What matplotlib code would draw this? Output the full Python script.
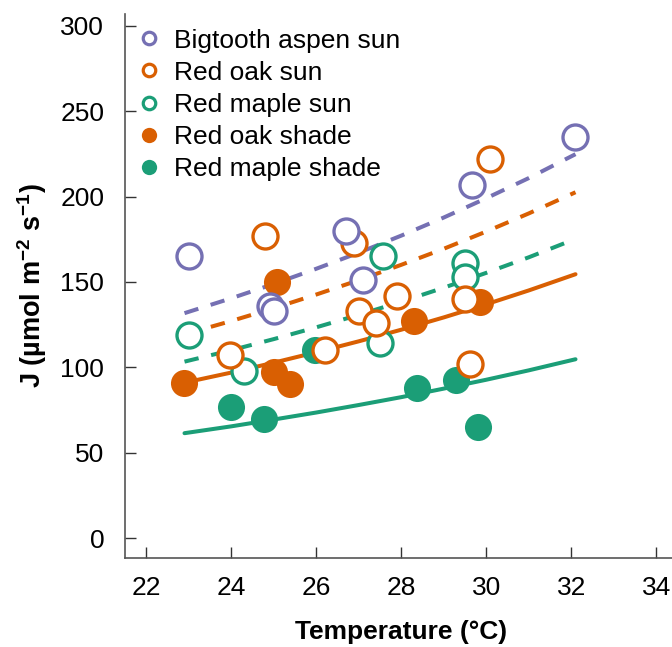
import numpy as np
import matplotlib
matplotlib.use("Agg")
import matplotlib.pyplot as plt
from matplotlib.lines import Line2D

plt.rcParams["font.family"] = ["Liberation Sans", "DejaVu Sans"]
plt.rcParams["mathtext.default"] = "regular"

PURPLE = "#7570b3"
ORANGE = "#d95f02"
GREEN = "#1b9e77"

# points (temperature, J)
aspen_sun_t = [23.0, 24.92, 25.0, 26.71, 27.11, 29.66, 32.09]
aspen_sun_j = [165, 136, 133, 180, 151, 207, 235]

oak_sun_t = [23.98, 24.8, 26.2, 26.9, 27.0, 27.4, 27.9, 29.49, 29.61, 30.08]
oak_sun_j = [107, 177, 110, 173, 133, 126, 142, 140, 102, 222]

maple_sun_t = [23.0, 24.29, 27.49, 27.58, 29.51, 29.51]
maple_sun_j = [119, 98, 114, 165, 161, 153]

oak_shade_t = [22.88, 25.0, 25.07, 25.39, 28.29, 29.86]
oak_shade_j = [91, 97, 150, 90, 127, 138]

maple_shade_t = [24.0, 24.78, 25.98, 28.38, 29.29, 29.8]
maple_shade_j = [77, 69.5, 110, 88, 92.5, 65]

# fitted curves, read at a few temperatures
fit_t = [22.9, 24, 25, 26, 27, 28, 29, 30, 31, 32.1]
aspen_sun_fit = [131.7, 140.4, 148.8, 157.7, 167.1, 177.1, 187.7, 199.0, 210.8, 224.8]
oak_sun_fit = [119.3, 127.1, 134.6, 142.6, 151.0, 160.0, 169.4, 179.5, 190.1, 202.5]
maple_sun_fit = [103.3, 110.0, 116.5, 123.4, 130.7, 138.4, 146.6, 155.3, 164.4, 175.2]
oak_shade_fit = [91.0, 96.9, 102.7, 108.8, 115.2, 122.0, 129.2, 136.9, 145.0, 154.5]
maple_shade_fit = [61.4, 65.4, 69.4, 73.5, 77.9, 82.5, 87.5, 92.7, 98.2, 104.7]

xticks = [22, 24, 26, 28, 30, 32, 34]
yticks = [0, 50, 100, 150, 200, 250, 300]

fig = plt.figure(figsize=(6.72, 6.47), dpi=100)
ax = fig.add_axes([125/672, 89/647, 552.5/672, 544/647])

LW = 2.9
dash = (3.6, 3.2)

ax.plot(fit_t, aspen_sun_fit, color=PURPLE, lw=LW, dashes=dash, zorder=1)
ax.plot(fit_t, oak_sun_fit, color=ORANGE, lw=LW, dashes=dash, zorder=1)
ax.plot(fit_t, maple_sun_fit, color=GREEN, lw=LW, dashes=dash, zorder=1)
ax.plot(fit_t, oak_shade_fit, color=ORANGE, lw=LW, solid_capstyle="round", zorder=1)
ax.plot(fit_t, maple_shade_fit, color=GREEN, lw=LW, solid_capstyle="round", zorder=1)

MS = 19.5
ax.plot(maple_shade_t, maple_shade_j, "o", ms=MS, color=GREEN, mec="none", zorder=2)
ax.plot(oak_shade_t, oak_shade_j, "o", ms=MS, color=ORANGE, mec="none", zorder=2)
ax.plot(maple_sun_t, maple_sun_j, "o", ms=MS - 1.5, mfc="white", mec=GREEN, mew=2.4, zorder=3)
ax.plot(oak_sun_t, oak_sun_j, "o", ms=MS - 1.5, mfc="white", mec=ORANGE, mew=2.4, zorder=3)
ax.plot(aspen_sun_t, aspen_sun_j, "o", ms=MS - 1.5, mfc="white", mec=PURPLE, mew=2.4, zorder=3)

ax.set_xlim(21.5, 34.5)
ax.set_ylim(-11.7, 306.9)
ax.set_xticks(xticks)
ax.set_yticks(yticks)
ax.tick_params(direction="in", length=8, width=1, color="#333333", labelsize=19)
ax.tick_params(axis="y", pad=15)
ax.tick_params(axis="x", pad=13)
for s in ["top", "right"]:
    ax.spines[s].set_visible(False)
for s in ["left", "bottom"]:
    ax.spines[s].set_linewidth(1.2)
    ax.spines[s].set_color("#555555")

ax.set_xlabel("Temperature (°C)", fontsize=19, fontweight="bold", labelpad=14)
ax.set_ylabel("J (µmol m$^{-2}$ s$^{-1}$)", fontsize=19.5, fontweight="bold", labelpad=8)

handles = [
    Line2D([], [], ls="none", marker="o", ms=9, mfc="white", mec=PURPLE, mew=2.3),
    Line2D([], [], ls="none", marker="o", ms=9, mfc="white", mec=ORANGE, mew=2.3),
    Line2D([], [], ls="none", marker="o", ms=9, mfc="white", mec=GREEN, mew=2.3),
    Line2D([], [], ls="none", marker="o", ms=11, color=ORANGE, mec="none"),
    Line2D([], [], ls="none", marker="o", ms=11, color=GREEN, mec="none"),
]
labels = ["Bigtooth aspen sun", "Red oak sun", "Red maple sun",
          "Red oak shade", "Red maple shade"]
ax.legend(handles, labels, loc="upper left", bbox_to_anchor=(0.0, 1.0),
          frameon=False, fontsize=19, handlelength=0.7, handletextpad=0.6,
          labelspacing=0.31, borderpad=0.2, borderaxespad=0.35)

plt.savefig("out.png", dpi=100)
plt.close()
